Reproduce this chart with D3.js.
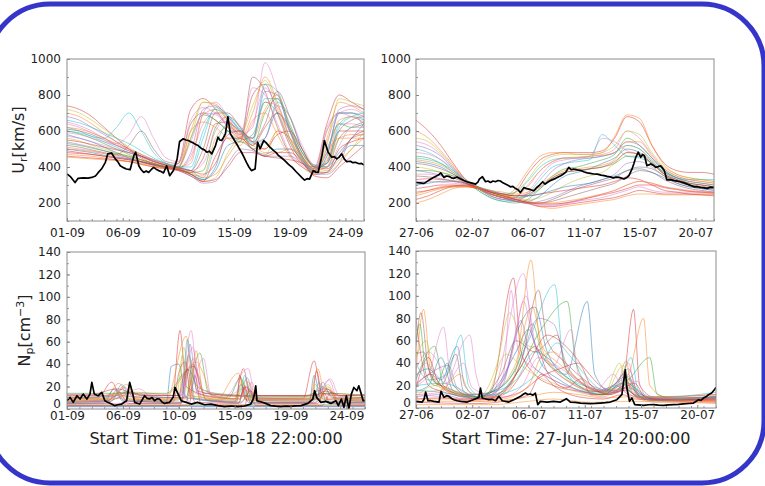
<!DOCTYPE html>
<html><head><meta charset="utf-8">
<script src="https://cdn.jsdelivr.net/npm/d3@7"></script>
<style>body{margin:0;background:#fff}svg{display:block}text{font-family:"DejaVu Sans",sans-serif}</style>
</head><body><svg id="c" width="765" height="486"></svg>
<script>
// ---------- DATA ----------
const tickDays = [0, 4.5, 9, 13.5, 18, 22.5];
const sepTickLabels = ["01-09", "06-09", "10-09", "15-09", "19-09", "24-09"];
const junTickLabels = ["27-06", "02-07", "06-07", "11-07", "15-07", "20-07"];
const sepStartLabel = "Start Time: 01-Sep-18 22:00:00";
const junStartLabel = "Start Time: 27-Jun-14 20:00:00";
const vrTicks = [200, 400, 600, 800, 1000];
const npTicks = [0, 20, 40, 60, 80, 100, 120, 140];
const gridDays = [0,1,2,3,4,5,6,7,8,9,10,11,12,13,14,15,16,17,18,19,20,21,22,23,24];

// observed Ur, Sep 2018 [day, km/s]
const vrObsSep = [[0,361],[0.3,345],[0.65,314],[0.9,337],[1.3,340],[1.7,338],[2.0,342],[2.3,350],[2.5,367],[2.8,390],[3.1,426],[3.3,473],[3.6,478],[3.9,445],[4.1,430],[4.3,407],[4.6,395],[4.8,389],[5.1,385],[5.4,463],[5.55,482],[5.8,407],[6.0,385],[6.2,370],[6.4,378],[6.6,370],[6.8,385],[7.0,398],[7.2,388],[7.4,380],[7.6,375],[7.8,367],[8.05,407],[8.3,352],[8.6,380],[8.9,445],[9.1,542],[9.4,557],[9.6,550],[9.8,547],[10.0,540],[10.2,534],[10.4,525],[10.6,519],[10.9,501],[11.1,495],[11.3,482],[11.5,488],[11.7,473],[12.0,519],[12.2,566],[12.35,550],[12.5,547],[12.65,565],[12.8,584],[13.0,678],[13.2,584],[13.45,557],[13.7,529],[13.9,505],[14.1,482],[14.3,455],[14.5,426],[14.7,400],[14.9,380],[15.2,389],[15.4,538],[15.6,501],[15.9,547],[16.1,534],[16.4,510],[16.7,491],[16.9,480],[17.1,463],[17.35,450],[17.6,435],[17.9,415],[18.2,398],[18.5,375],[18.7,361],[19.0,340],[19.2,327],[19.4,335],[19.6,333],[19.9,380],[20.1,372],[20.3,370],[20.6,463],[20.8,547],[21.1,482],[21.4,454],[21.6,458],[21.8,445],[22.0,455],[22.2,473],[22.4,445],[22.6,430],[22.9,432],[23.1,424],[23.3,426],[23.6,418],[23.8,420],[24,411]];

// ensemble Ur, Sep 2018 (one value per day on gridDays)
const vrEnsSep = [
 [740,720,680,620,560,500,450,420,400,420,720,780,720,620,560,800,860,700,520,420,400,640,800,760,720],
 [700,680,640,590,540,500,460,430,410,400,600,760,750,660,560,700,900,760,560,430,380,560,760,740,700],
 [650,630,600,560,520,490,460,430,410,400,420,700,760,680,580,620,980,820,600,440,380,480,700,720,690],
 [620,600,570,560,620,700,600,480,420,400,380,560,730,690,600,540,860,820,620,460,390,420,640,680,660],
 [600,585,560,530,500,470,440,420,400,390,370,380,620,680,620,520,700,780,640,480,400,400,560,620,650],
 [580,560,540,510,480,450,430,410,395,385,360,330,400,600,600,500,560,700,620,480,410,400,480,560,640],
 [560,545,520,500,480,460,440,420,400,390,360,320,340,480,560,500,460,600,560,470,400,380,440,500,600],
 [540,525,510,490,470,450,430,410,395,380,350,310,320,420,500,490,460,460,460,420,360,360,420,560,580],
 [520,510,495,480,470,520,600,500,430,420,640,700,660,600,540,900,820,620,470,400,370,600,700,700,680],
 [510,500,490,475,460,445,430,415,400,390,460,640,700,650,570,560,760,740,560,440,380,480,640,640,620],
 [490,480,470,460,450,440,425,410,395,385,370,450,640,650,590,520,620,700,600,460,390,430,600,600,600],
 [470,465,460,450,440,430,420,405,395,385,360,350,560,620,580,500,500,600,560,450,380,400,560,580,580],
 [460,455,450,445,440,430,415,400,390,380,350,320,460,560,560,500,460,480,480,430,360,370,500,540,560],
 [455,450,445,440,435,430,415,400,390,400,600,650,620,560,520,660,700,580,460,400,360,480,560,560,560],
 [640,620,590,560,530,580,680,560,450,430,660,730,700,640,580,840,800,640,480,410,380,620,700,680,650],
 [600,590,570,540,510,480,460,440,420,400,380,340,520,640,600,530,560,760,680,500,410,420,620,680,700],
 [530,520,505,490,475,460,440,420,405,400,560,690,660,600,550,580,760,700,540,430,370,500,640,620,640],
 [500,490,480,465,455,445,430,415,400,390,360,330,380,520,540,500,470,500,500,440,370,370,460,520,520],
 [720,700,660,610,560,510,470,440,415,400,560,760,740,660,580,740,880,740,560,440,390,520,780,760,740],
 [680,660,620,580,540,500,460,430,410,395,480,720,740,680,600,560,820,800,600,450,380,460,720,740,720],
 [610,600,580,550,520,490,460,430,410,395,380,500,700,700,620,540,640,820,680,500,400,420,600,660,680],
 [570,560,540,520,500,480,455,430,410,395,380,420,600,680,630,540,560,740,680,520,410,400,520,620,620],
 [550,540,525,510,495,480,460,435,410,395,380,360,420,580,600,540,500,580,600,500,400,390,460,560,600],
 [500,495,485,475,465,455,440,420,400,390,370,340,360,460,540,520,480,480,500,460,380,370,420,500,560],
 [480,475,470,460,450,440,430,415,400,385,360,320,330,400,480,480,460,450,440,420,350,340,400,460,520],
 [620,610,590,560,530,500,470,440,415,400,440,690,720,660,590,560,720,800,620,460,390,440,660,680,640],
 [590,580,560,540,520,500,470,440,420,410,540,700,690,630,570,640,840,720,540,430,380,540,700,700,620],
 [660,645,620,590,560,530,490,450,420,400,400,600,720,680,610,560,780,780,600,450,380,460,700,700,660]
];

// observed Ur, Jun 2014
const vrObsJun = [[0,314],[0.3,312],[0.65,309],[0.9,320],[1.2,333],[1.4,342],[1.6,348],[1.8,355],[2.0,367],[2.25,342],[2.45,350],[2.65,348],[2.85,340],[3.05,337],[3.3,345],[3.6,333],[3.85,325],[4.1,318],[4.45,312],[4.8,305],[5.0,318],[5.1,333],[5.35,346],[5.6,318],[5.8,322],[6.0,314],[6.2,322],[6.4,318],[6.6,325],[6.8,322],[7.0,312],[7.2,305],[7.4,298],[7.6,290],[7.8,292],[8.0,281],[8.2,275],[8.4,258],[8.7,286],[8.9,280],[9.1,277],[9.3,272],[9.5,268],[9.7,285],[9.9,296],[10.2,318],[10.4,305],[10.6,315],[10.8,324],[11.0,330],[11.25,337],[11.45,345],[11.65,352],[11.85,360],[12.05,370],[12.3,398],[12.5,385],[12.7,389],[13.0,384],[13.3,380],[13.55,372],[13.8,367],[14.05,365],[14.3,361],[14.6,360],[14.9,355],[15.15,352],[15.4,348],[15.65,345],[15.9,339],[16.1,344],[16.35,342],[16.55,338],[16.75,333],[16.95,340],[17.15,352],[17.4,389],[17.55,420],[17.7,454],[17.9,482],[18.1,454],[18.25,470],[18.4,463],[18.6,407],[18.9,417],[19.1,410],[19.3,398],[19.5,402],[19.7,407],[19.85,395],[20.0,380],[20.2,329],[20.5,330],[20.8,324],[21.05,322],[21.3,318],[21.6,312],[21.85,305],[22.1,298],[22.4,290],[22.65,291],[22.9,286],[23.2,284],[23.45,281],[23.7,288],[24,286]];

// ensemble Ur, Jun 2014
const vrEnsJun = [
 [660,600,520,420,330,280,250,230,260,360,440,470,480,480,480,490,560,680,650,520,420,380,370,370,360],
 [600,560,490,410,330,280,250,240,280,380,460,480,480,470,470,480,570,690,670,520,410,360,340,330,320],
 [540,520,470,400,330,280,240,220,230,300,380,430,450,450,460,560,540,490,470,420,360,330,310,300,290],
 [500,480,440,380,320,270,230,210,210,250,330,400,420,430,440,580,520,460,450,420,360,320,300,290,280],
 [460,450,420,370,320,270,230,210,200,220,280,350,390,400,420,440,470,560,520,450,380,340,310,300,290],
 [430,420,400,360,320,280,240,220,210,210,240,300,350,370,390,420,450,500,480,430,370,330,300,290,280],
 [400,390,370,350,310,280,250,230,220,220,230,260,300,330,350,370,420,480,470,420,360,320,300,290,280],
 [380,370,355,340,310,280,250,230,210,200,210,230,260,290,310,330,360,420,430,400,350,310,290,280,270],
 [350,345,335,320,305,280,250,230,210,200,200,210,230,250,270,290,310,350,380,370,330,300,280,270,260],
 [320,320,315,310,300,280,260,240,220,200,190,190,200,210,220,230,250,270,290,270,260,260,260,260,260],
 [280,290,300,300,295,280,260,240,220,200,180,180,190,200,210,220,230,250,270,260,250,250,250,250,250],
 [250,270,290,295,295,280,260,240,220,200,180,170,180,190,200,210,220,240,250,250,245,245,245,245,245],
 [220,240,270,290,290,280,260,250,240,240,250,260,270,280,290,300,320,340,330,300,270,260,250,245,240],
 [200,220,250,280,290,280,270,260,250,260,300,350,380,390,400,410,440,520,500,430,360,320,300,290,280],
 [480,470,440,390,330,280,240,220,220,260,350,420,440,450,460,470,500,600,560,470,390,350,330,320,310],
 [450,440,420,380,330,290,260,250,260,320,400,440,450,450,450,460,480,520,500,440,380,340,330,330,330],
 [380,380,370,350,320,290,260,240,230,240,280,340,370,380,390,400,420,460,460,420,370,340,320,310,300],
 [300,310,320,320,310,290,270,250,240,240,250,270,290,300,310,330,350,380,390,370,340,310,290,280,270],
 [560,540,480,400,320,280,250,240,260,330,420,460,470,470,470,480,520,600,580,480,400,360,340,330,320],
 [520,500,460,390,320,280,250,230,220,240,300,380,420,440,450,460,480,540,520,450,380,340,320,310,300],
 [420,410,390,360,320,285,250,230,210,200,200,220,250,280,300,320,340,380,400,390,350,320,300,290,280],
 [360,360,350,340,315,285,255,230,210,195,185,185,195,210,230,250,270,300,320,310,290,280,270,265,260],
 [330,335,330,325,310,285,260,240,220,205,195,195,200,215,230,245,260,280,300,300,285,275,265,260,255],
 [240,260,280,290,295,285,265,245,225,210,200,200,210,220,235,250,270,300,320,310,290,275,265,260,255],
 [260,270,285,295,300,285,265,250,240,250,290,340,370,380,390,400,430,480,470,420,360,330,310,300,290],
 [440,430,410,370,325,285,250,235,240,290,380,430,450,455,460,465,480,540,540,460,390,350,330,320,310]
];

// observed Np, Sep 2018 [day, cm^-3]
const npObsSep = [[0,7.4],[0.25,10.4],[0.5,5.9],[0.8,11.8],[1.05,8.9],[1.3,13.3],[1.6,8.9],[1.85,13.3],[2.0,23.7],[2.2,13.3],[2.5,11.8],[2.8,14.8],[3.05,7.4],[3.3,5.9],[3.6,4.5],[3.85,3.0],[4.1,3.8],[4.4,4.4],[4.8,7.4],[5.05,23.7],[5.3,13.3],[5.45,5.9],[5.85,4.4],[6.25,11.8],[6.45,9.5],[6.65,8.9],[6.85,10.2],[7.05,7.4],[7.25,9.0],[7.45,8.9],[7.65,6.2],[7.85,5.0],[8.25,5.9],[8.55,10.4],[8.7,19.2],[8.95,13.3],[9.2,7.4],[9.6,5.9],[10.0,4.4],[10.5,5.9],[11.1,3.8],[11.6,4.4],[12.15,3.0],[12.7,2.1],[13.2,2.7],[13.75,2.1],[14.3,2.7],[14.8,4.4],[15.0,9.0],[15.1,13.3],[15.2,20.7],[15.3,7.4],[15.6,6.5],[16.0,5.0],[16.4,3.0],[16.8,2.5],[17.2,2.1],[17.6,2.6],[18.0,2.4],[18.4,2.8],[18.85,3.0],[19.4,5.0],[19.8,8.9],[19.95,16.3],[20.1,10.4],[20.45,5.9],[20.85,6.8],[21.25,5.0],[21.65,7.4],[21.85,3.0],[22.1,8.9],[22.3,1.5],[22.5,11.8],[22.7,0],[22.9,13.3],[23.1,19.2],[23.35,16.3],[23.5,20.7],[23.7,13.3],[23.85,7.4],[24,7.4]];

// ensemble Np, Sep 2018 (per member [day, value] knots)
const npEnsSep = [
 [[0,9],[2.5,10],[3.6,24],[4.3,12],[7,10],[8.5,10],[9.1,70],[9.6,20],[12,10],[13.5,9],[14.2,36],[14.8,10],[19,9],[19.9,43],[20.5,14],[24,10]],
 [[0,7],[3,9],[4.2,23],[5,9],[8,8],[9.6,65],[10.2,15],[12,8],[13.8,32],[14.4,9],[19.5,8],[20.2,36],[20.8,10],[24,8]],
 [[0,6],[3.5,8],[4.6,20],[5.5,8],[9,8],[10.0,70],[10.6,14],[12.5,8],[14.6,36],[15.2,8],[20,8],[21.1,26],[21.8,9],[24,7]],
 [[0,3],[24,3]],
 [[0,10],[4,12],[5,16],[6,12],[9.5,10],[10.7,50],[11.4,14],[13,10],[14,28],[14.6,10],[20,10],[20.6,20],[21.5,10],[24,10]],
 [[0,5],[3,6],[3.8,18],[4.5,7],[8,6],[8.4,38],[9,40],[9.6,10],[13.5,6],[14,22],[14.6,6],[19.5,6],[19.9,30],[20.5,7],[24,6]],
 [[0,8],[4,9],[4.8,14],[6,8],[9,8],[9.4,55],[10,12],[13.6,8],[14.4,26],[15,8],[20.3,9],[21,22],[21.8,9],[24,8]],
 [[0,2],[9,2],[9.5,12],[10,2],[24,2]],
 [[0,12],[3,12],[4.5,15],[7,12],[9.2,12],[9.8,48],[10.5,16],[13,12],[15,11],[19,11],[20.8,18],[22,12],[24,12]],
 [[0,4],[4,5],[9,5],[10.2,45],[10.9,8],[14,5],[14.9,24],[15.4,5],[20,5],[20.4,16],[21,5],[24,4]],
 [[0,7],[3.4,8],[4,17],[4.8,8],[8.6,7],[9,32],[9.5,42],[10,10],[13.7,7],[13.9,30],[14.4,8],[19.7,7],[20.1,34],[20.6,9],[24,7]],
 [[0,11],[4,13],[5.5,15],[8,13],[10.4,42],[11.1,28],[11.6,12],[14,11],[15,12],[20,11],[21,14],[24,11]],
 [[0,3],[4,3],[9.8,3],[10.3,30],[10.8,4],[14.3,3],[14.7,18],[15.2,3],[20.5,3],[21.3,15],[22,3],[24,3]],
 [[0,4],[24,4]],
 [[0,9],[4,10],[5.8,18],[7,10],[9.6,10],[11.0,45],[11.6,12],[14,9],[14.5,20],[15.2,9],[20,9],[21.2,27],[22,10],[24,9]],
 [[0,6],[3.6,7],[4.4,22],[5.2,7],[9.2,6],[9.7,62],[10.3,9],[13.9,6],[14.3,30],[14.9,6],[19.8,6],[20.3,24],[20.9,6],[24,6]],
 [[0,14],[3,14],[5,14],[8,14],[9.8,35],[10.5,20],[12,14],[15,12],[19,12],[21,14],[24,12]],
 [[0,2.5],[24,2.5]],
 [[0,8],[3,9],[4,14],[5,9],[8.8,8],[9.3,48],[9.8,12],[13.7,8],[14.1,25],[14.7,8],[19.8,8],[20.0,22],[20.6,8],[24,8]],
 [[0,10],[3.8,11],[4.6,19],[5.4,11],[9.4,10],[9.9,58],[10.5,14],[13.9,9],[14.5,28],[15.1,9],[20.1,9],[20.6,24],[21.3,10],[24,9]],
 [[0,6],[3.2,7],[4.0,12],[5,7],[9.6,6],[10.1,40],[10.6,30],[11.2,8],[14,6],[14.8,16],[15.4,6],[20,6],[21.0,18],[21.8,6],[24,6]],
 [[0,12],[4,12],[6,13],[9,12],[9.5,28],[10.1,55],[10.8,18],[13,12],[14.2,18],[15,12],[19.8,12],[20.4,20],[21.2,12],[24,12]],
 [[0,5],[3,5],[4.2,10],[5,5],[9.2,5],[9.7,36],[10.3,6],[13.8,5],[14.3,20],[14.8,5],[20.2,5],[20.7,14],[21.2,5],[24,5]],
 [[0,9],[3.5,9],[4.8,22],[5.6,9],[9.8,9],[10.4,52],[11,12],[13.9,9],[14.6,24],[15.3,9],[20.4,9],[21.0,20],[21.7,9],[24,9]],
 [[0,13],[2,13],[4,18],[6,12],[9,12],[9.4,30],[10.2,38],[11,14],[14,12],[14.4,20],[15,12],[20,12],[20.8,16],[22,12],[24,13]]
];

// observed Np, Jun 2014
const npObsJun = [[0,5.9],[0.5,5.3],[0.65,8],[0.77,14.2],[0.96,6.5],[1.2,6.5],[1.44,5.9],[1.84,5.3],[2.0,14.8],[2.24,9.5],[2.45,11],[2.63,10.4],[2.85,8.5],[3.03,7.4],[3.3,6.5],[3.57,5.9],[4.1,5.3],[4.58,7.4],[5.03,9.5],[5.16,17.8],[5.3,8.9],[5.6,8],[5.83,7.4],[6.1,7.8],[6.36,6.5],[6.63,10.4],[6.9,6.5],[7.42,5.3],[7.82,7.4],[8.1,9],[8.36,10.4],[8.55,12],[8.75,13.3],[8.95,12],[9.15,12.5],[9.35,11.5],[9.55,13.3],[9.74,3.0],[9.95,5.9],[10.5,5.3],[11.0,5.9],[11.55,5.3],[12.03,8.3],[12.35,5.3],[12.75,5],[13.15,4.4],[13.55,4.2],[13.94,3.9],[14.35,4.1],[14.74,4.4],[15.15,4.8],[15.54,5.3],[16.07,7.4],[16.47,11.9],[16.74,34.1],[16.87,17.8],[17.08,5.9],[17.27,8.9],[17.5,3.0],[18.2,2.4],[18.6,2.9],[19.0,3.0],[19.4,2.6],[19.8,2.4],[20.2,2.8],[20.6,3.0],[21.0,3.2],[21.4,3.6],[21.8,4.0],[22.2,4.4],[22.6,7.4],[22.8,6.8],[23.0,8.9],[23.2,10],[23.4,11.9],[23.65,13.3],[23.87,16.3],[24,18.4]];

// ensemble Np, Jun 2014
const npEnsJun = [
 [[0,80],[0.5,40],[1,20],[2,15],[3,12],[5,10],[6,15],[7.8,116],[8.4,50],[9.5,30],[11,20],[13,15],[15,12],[16.5,20],[17.4,88],[17.9,20],[19,10],[24,12]],
 [[0,30],[0.6,88],[1.2,30],[2,18],[4,12],[6,14],[8,40],[9.2,132],[9.9,60],[11,35],[13,20],[15,14],[17,30],[18.2,80],[18.7,20],[20,10],[24,12]],
 [[0,20],[1,30],[2.2,72],[2.8,25],[4,12],[6,12],[8.6,120],[9.4,60],[10.5,40],[12,25],[14,15],[16,14],[17,40],[17.6,15],[19,8],[24,10]],
 [[0,40],[1,25],[2.5,30],[3.6,65],[4.2,20],[5,12],[7,20],[9,60],[11.1,110],[11.8,40],[13,20],[15,12],[16.5,30],[17.2,45],[17.8,15],[19,8],[24,9]],
 [[0,25],[1.5,55],[2.2,20],[4,10],[6,10],[8,30],[10,70],[12.1,95],[12.8,40],[14,18],[15.5,12],[17,25],[18.7,45],[19.3,12],[21,8],[24,10]],
 [[0,15],[1,20],[2,45],[3,15],[5,10],[7,25],[8,65],[9.5,90],[10.5,50],[12,30],[13.7,95],[14.3,30],[15.5,15],[17,18],[18,12],[20,8],[24,9]],
 [[0,45],[0.8,60],[1.5,25],[3,15],[5,10],[6.5,40],[7.5,85],[8.5,60],[10,50],[11.5,30],[13,18],[15,12],[16.3,40],[16.8,20],[18,10],[24,8]],
 [[0,10],[2,12],[4,8],[6,10],[8,30],[9.8,80],[11,75],[12,40],[13,25],[14.5,16],[16,22],[17,35],[17.8,12],[19,7],[24,8]],
 [[0,55],[0.4,85],[1,35],[2,20],[3.2,48],[3.8,15],[5,10],[7,15],[8.5,45],[9.8,105],[10.5,60],[12,40],[13.5,25],[15,15],[16.8,28],[17.5,18],[19,8],[24,10]],
 [[0,12],[2,10],[4,8],[6,10],[7,30],[7.6,105],[8.2,50],[9.5,35],[11,25],[13,15],[15,10],[16.5,18],[17.5,12],[19,7],[24,7]],
 [[0,18],[1,45],[1.7,25],[3,12],[5,8],[7,12],[9,40],[10.5,65],[12,55],[13.5,35],[15,18],[16.2,15],[17,20],[18,10],[24,6]],
 [[0,8],[3,8],[5,6],[7,8],[9,20],[10,45],[11,50],[12.5,30],[14.5,15],[16,18],[16.8,42],[17.3,15],[19,6],[24,7]],
 [[0,5],[5,4],[7,6],[9,12],[10,30],[11,20],[13,10],[15,8],[16.5,12],[17.5,8],[24,5]],
 [[0,3],[6,3],[9,6],[11,8],[14,5],[17,6],[24,4]],
 [[0,35],[1,50],[1.8,40],[2.8,15],[4,10],[6,12],[7.5,40],[8.8,100],[9.6,55],[11,38],[12.4,70],[13,30],[14.5,18],[16,15],[17,30],[17.6,12],[19,8],[24,11]],
 [[0,20],[2,22],[3,20],[4.5,12],[6,14],[8,25],[9.5,50],[10.5,45],[12,28],[14,18],[15.5,15],[16.5,25],[17.5,18],[19,9],[24,14]],
 [[0,60],[0.3,75],[0.8,30],[1.6,20],[2.5,40],[3,20],[4.5,10],[6,14],[8,35],[9.3,75],[10.2,45],[12,28],[14,15],[16,14],[17,22],[18,10],[24,9]],
 [[0,30],[1,35],[2,25],[3.3,55],[3.9,20],[5,10],[6.5,20],[8,50],[9,70],[10,40],[11.5,25],[13,16],[15,12],[16.5,22],[17.2,14],[19,7],[24,8]],
 [[0,10],[1.5,20],[2.5,15],[4,10],[5.5,9],[7.2,48],[8.2,40],[9.4,30],[11,22],[13,14],[15,11],[16.6,38],[17.2,14],[19,7],[24,9]],
 [[0,22],[1,30],[2.6,38],[3.3,18],[5,10],[6,12],[7,22],[8.4,78],[9.2,40],[10.5,28],[12,20],[14,14],[15.8,20],[16.6,30],[17.4,12],[19,7],[24,8]],
 [[0,48],[0.6,50],[1.3,25],[2.5,18],[4,12],[5,9],[6.8,30],[8,60],[9.5,50],[11.3,65],[12,35],[13.5,20],[15,14],[16,20],[17,12],[19,8],[24,10]],
 [[0,12],[2,14],[4.3,65],[4.8,30],[5.5,12],[7,10],[8.5,20],[9.8,45],[11,38],[12.5,22],[14.3,15],[15.8,30],[16.5,18],[18,9],[24,8]],
 [[0,20],[1.2,30],[2,20],[3.5,12],[5,8],[6.5,10],[8.3,35],[9.5,55],[10.6,30],[12,18],[13.2,26],[14,12],[16,14],[17.5,22],[18.3,10],[20,7],[24,9]],
 [[0,14],[2,16],[3.5,30],[4.3,14],[6,10],[7.5,18],[9.3,90],[10.1,55],[11.4,40],[13,25],[14.8,15],[16.4,18],[17.1,26],[18,10],[24,8]],
 [[0,8],[2,9],[4,7],[6,8],[8.5,15],[10,28],[11.5,35],[13,40],[14,20],[15.5,12],[16.8,16],[18,8],[24,7]],
 [[0,6],[3,6],[6,6],[9,10],[11,14],[13,12],[15,9],[17,10],[19,5],[24,6]],
 [[0,26],[0.8,40],[1.6,30],[2.4,22],[3.8,40],[4.5,18],[6,12],[7.8,55],[8.6,95],[9.4,60],[10.8,42],[12.3,30],[14,18],[16,14],[17.7,24],[18.4,10],[24,9]],
 [[0,16],[2,14],[4,10],[6.5,12],[9.6,30],[11.3,58],[12.2,48],[13.5,30],[15,16],[16.3,20],[17,28],[17.7,12],[19,7],[24,10]]
];

// ---------- STYLE ----------
const palette = ["#d62728","#ff7f0e","#e377c2","#17becf","#2ca02c","#1f77b4","#bcbd22","#9467bd","#8c564b","#e377c2","#d62728","#ff7f0e"];

const svg = d3.select("#c");

svg.append("rect").attr("x", -12).attr("y", 4).attr("width", 776).attr("height", 479)
  .attr("rx", 62).attr("fill", "none").attr("stroke", "#3535c9").attr("stroke-width", 5);

const toPairs = arr => arr.map((v, i) => [gridDays[i], v]);

const panels = [
  {x0:67, x1:364, y0:59, y1:221, dom:[100,1000], yt:vrTicks, minor:d3.range(100,1001,100), xl:sepTickLabels, obs:vrObsSep, ens:vrEnsSep.map(toPairs), pad:7, ylabel:"vr", yLabX:24},
  {x0:416, x1:714, y0:59, y1:221, dom:[100,1000], yt:vrTicks, minor:d3.range(100,1001,100), xl:junTickLabels, obs:vrObsJun, ens:vrEnsJun.map(toPairs), pad:7},
  {x0:67, x1:365, y0:252, y1:409, dom:[0,140], yt:npTicks, minor:d3.range(0,141,10), xl:sepTickLabels, obs:npObsSep, ens:npEnsSep, pad:2.5, ylabel:"np", yLabX:30, start:sepStartLabel},
  {x0:416, x1:716, y0:251, y1:408, dom:[0,140], yt:npTicks, minor:d3.range(0,141,10), xl:junTickLabels, obs:npObsJun, ens:npEnsJun, pad:2.5, start:junStartLabel}
];

panels.forEach((p, pi) => {
  const x = d3.scaleLinear().domain([0, 24]).range([p.x0, p.x1]);
  const y = d3.scaleLinear().domain(p.dom).range([p.y1, p.y0]);
  const g = svg.append("g");
  const cid = "clip" + pi;
  svg.append("clipPath").attr("id", cid).append("rect")
    .attr("x", p.x0).attr("y", p.y0 - 1).attr("width", p.x1 - p.x0).attr("height", p.y1 - p.y0 + 1);

  const ensLine = d3.line().x(d => x(d[0])).y(d => y(d[1])).curve(d3.curveMonotoneX);
  const obsLine = d3.line().x(d => x(d[0])).y(d => y(d[1]));
  const eg = g.append("g").attr("clip-path", `url(#${cid})`);
  p.ens.forEach((m, i) => {
    eg.append("path").attr("d", ensLine(m)).attr("fill", "none")
      .attr("stroke", palette[i % palette.length]).attr("stroke-opacity", 0.55).attr("stroke-width", 0.9);
  });
  eg.append("path").attr("d", obsLine(p.obs)).attr("fill", "none")
    .attr("stroke", "#000").attr("stroke-width", 1.7).attr("stroke-linejoin", "round");

  // minor ticks
  const mx = g.append("g").attr("transform", `translate(0,${p.y1})`)
    .call(d3.axisBottom(x).tickValues(d3.range(0, 24.01, 1)).tickFormat("").tickSizeInner(-2).tickSizeOuter(0));
  const my = g.append("g").attr("transform", `translate(${p.x0},0)`)
    .call(d3.axisLeft(y).tickValues(p.minor).tickFormat("").tickSizeInner(-2).tickSizeOuter(0));
  [mx, my].forEach(a => { a.select(".domain").remove(); a.selectAll("line").attr("stroke", "#999"); });

  // major axes
  const ax = g.append("g").attr("transform", `translate(0,${p.y1})`)
    .call(d3.axisBottom(x).tickValues(tickDays).tickFormat((d, i) => p.xl[i]).tickSizeInner(-3).tickSizeOuter(0).tickPadding(p.pad));
  const ay = g.append("g").attr("transform", `translate(${p.x0},0)`)
    .call(d3.axisLeft(y).tickValues(p.yt).tickFormat(d3.format("d")).tickSizeInner(-3).tickSizeOuter(0).tickPadding(pi % 2 ? 5 : 6));
  [ax, ay].forEach(a => {
    a.select(".domain").remove();
    a.selectAll("line").attr("stroke", "#888");
    a.selectAll("text").attr("font-family", "DejaVu Sans").attr("font-size", 12).attr("fill", "#222");
  });
  ay.selectAll(".tick").filter(d => d === 0).select("text").attr("dy", "-0.1em");

  g.append("rect").attr("x", p.x0).attr("y", p.y0).attr("width", p.x1 - p.x0).attr("height", p.y1 - p.y0)
    .attr("fill", "none").attr("stroke", "#8c8c8c").attr("stroke-width", 1);

  if (p.start) {
    g.append("text").attr("x", (p.x0 + p.x1) / 2).attr("y", 444).attr("text-anchor", "middle")
      .attr("font-size", 16).attr("fill", "#222").text(p.start);
  }
  if (p.ylabel === "vr") {
    const t = g.append("text").attr("transform", `translate(${p.yLabX},${(p.y0 + p.y1) / 2}) rotate(-90)`)
      .attr("text-anchor", "middle").attr("font-size", 16).attr("fill", "#222");
    t.append("tspan").text("U");
    t.append("tspan").attr("font-size", 11).attr("dy", 3).text("r");
    t.append("tspan").attr("dy", -3).text("[km/s]");
  }
  if (p.ylabel === "np") {
    const t = g.append("text").attr("transform", `translate(${p.yLabX},${(p.y0 + p.y1) / 2}) rotate(-90)`)
      .attr("text-anchor", "middle").attr("font-size", 16).attr("fill", "#222");
    t.append("tspan").text("N");
    t.append("tspan").attr("font-size", 11).attr("dy", 3).text("p");
    t.append("tspan").attr("dy", -3).text("[cm");
    t.append("tspan").attr("font-size", 11).attr("dy", -6).text("\u22123");
    t.append("tspan").attr("dy", 6).text("]");
  }
});
</script></body></html>
